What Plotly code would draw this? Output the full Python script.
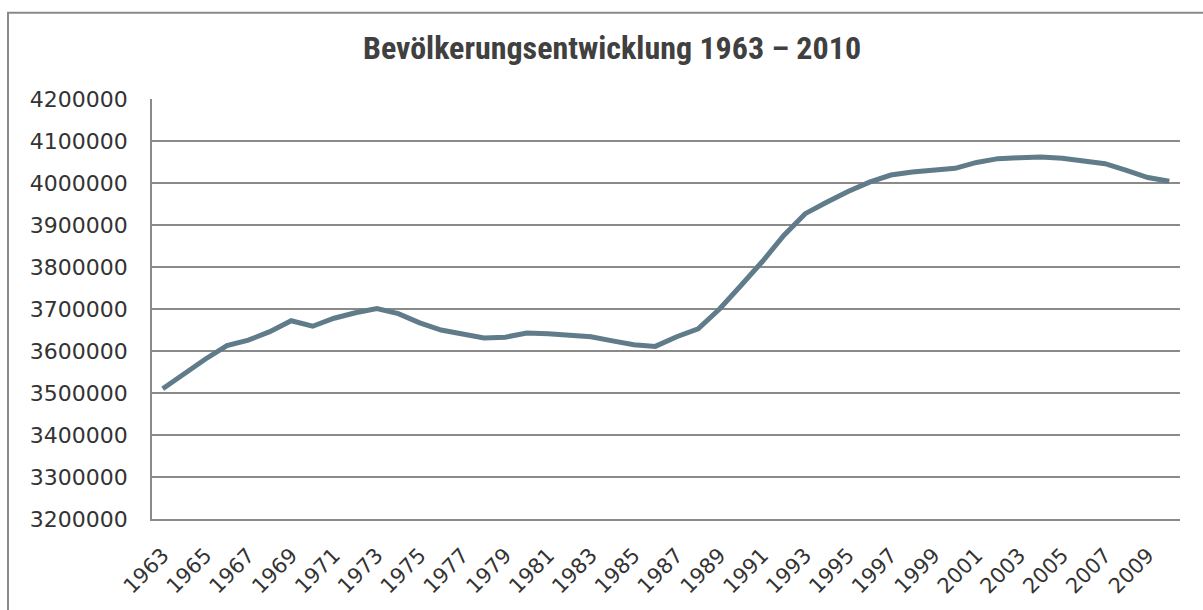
import plotly.graph_objects as go

years = [str(y) for y in range(1963, 2011)]
population = [
    3510000, 3546000, 3581000, 3613000, 3626000, 3646000, 3672000, 3659000,
    3678000, 3691000, 3701000, 3689000, 3667000, 3650000, 3640000, 3631000,
    3633000, 3643000, 3641000, 3637000, 3634000, 3624000, 3615000, 3611000,
    3634000, 3653000, 3700000, 3756000, 3813000, 3875000, 3927000, 3954000,
    3980000, 4002000, 4019000, 4026000, 4031000, 4035000, 4049000, 4058000,
    4060000, 4062000, 4059000, 4053000, 4046000, 4030000, 4013000, 4004000,
]
x_tick_labels = [str(y) for y in range(1963, 2011, 2)]
y_ticks = list(range(3200000, 4200001, 100000))

title_text = "Bevölkerungsentwicklung 1963 – 2010"

fig = go.Figure()
fig.add_trace(go.Scatter(
    x=years, y=population, mode="lines",
    line=dict(color="rgb(96,123,138)", width=5),
    hoverinfo="x+y", showlegend=False,
))

grid = "#8a8a8a"
fig.update_layout(
    width=1203, height=610,
    margin=dict(l=152, r=23, t=99, b=87),
    paper_bgcolor="white", plot_bgcolor="white",
    title=dict(
        text=title_text, x=612 / 1203, xanchor="center", xref="container",
        y=1 - 48 / 610, yanchor="middle", yref="container",
        font=dict(family="Liberation Sans Narrow, Arial Narrow, Roboto Condensed, sans-serif",
                  size=32, color="#404040", weight="bold"),
    ),
    xaxis=dict(
        type="category", categoryorder="array", categoryarray=years,
        range=[-0.5, len(years) - 0.5],
        tickmode="array", tickvals=x_tick_labels, ticktext=x_tick_labels,
        tickangle=-45, showgrid=False, showline=True, linecolor=grid, linewidth=1.5,
        ticks="", ticklabelstandoff=14,
        tickfont=dict(family="DejaVu Sans, Verdana, sans-serif", size=21, color="#333333"),
        fixedrange=True,
    ),
    yaxis=dict(
        range=[3200000, 4200000], tickmode="array", tickvals=y_ticks,
        ticktext=[str(v) for v in y_ticks],
        showgrid=True, gridcolor=grid, gridwidth=1.5,
        showline=True, linecolor=grid, linewidth=1.5,
        zeroline=False, ticks="", ticklabelstandoff=18,
        tickfont=dict(family="DejaVu Sans, Verdana, sans-serif", size=22, color="#333333"),
        fixedrange=True,
    ),
    shapes=[dict(
        type="rect", xref="paper", yref="paper",
        x0=(8 - 152) / 1028, x1=(1230 - 152) / 1028,
        y0=(523 - 640) / 424, y1=(523 - 12) / 424,
        line=dict(color="#8a8a8a", width=2), fillcolor="rgba(0,0,0,0)", layer="below",
    )],
)

fig.write_html("out.html", config={"displayModeBar": False},
               post_script="document.body.style.margin='0';")
